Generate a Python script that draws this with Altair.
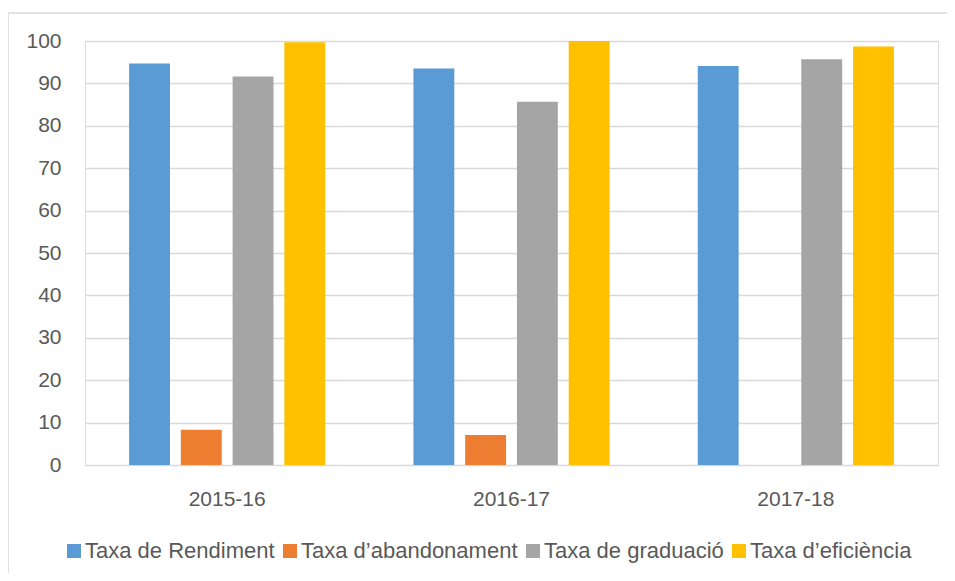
import altair as alt
import pandas as pd

years = ["2015-16", "2016-17", "2017-18"]
series = ["Taxa de Rendiment", "Taxa d’abandonament", "Taxa de graduació", "Taxa d’eficiència"]
colors = ["#5B9BD5", "#ED7D31", "#A5A5A5", "#FFC000"]
rendiment = [94.7, 93.5, 94.1]
abandonament = [8.3, 7.1, None]
graduacio = [91.6, 85.7, 95.7]
eficiencia = [99.7, 100.0, 98.7]

rows = []
for vals, s in zip([rendiment, abandonament, graduacio, eficiencia], series):
    for y, v in zip(years, vals):
        if v is not None:
            rows.append({"curs": y, "serie": s, "valor": v})
df = pd.DataFrame(rows)

FONT = "Liberation Sans"
TXT = "#595959"

bars = alt.Chart(df).mark_bar().encode(
    x=alt.X("curs:N", sort=years, title=None,
            scale=alt.Scale(paddingInner=0.31, paddingOuter=0.155),
            axis=alt.Axis(labelAngle=0, labelFont=FONT, labelFontSize=21, labelColor=TXT,
                          ticks=False, domain=False, labelPadding=23, grid=False)),
    xOffset=alt.XOffset("serie:N", sort=series,
                        scale=alt.Scale(paddingInner=0.21, paddingOuter=0)),
    y=alt.Y("valor:Q", title=None,
            scale=alt.Scale(domain=[0, 100], nice=False),
            axis=alt.Axis(values=list(range(0, 101, 10)), labelFont=FONT, labelFontSize=21,
                          labelColor=TXT, ticks=False, domain=False, labelPadding=24,
                          grid=True, gridColor="#d9d9d9", gridWidth=1.3)),
    color=alt.Color("serie:N", sort=series,
                    scale=alt.Scale(domain=series, range=colors),
                    legend=alt.Legend(title=None, orient="none", direction="horizontal",
                                      legendX=-22, legendY=499, columns=4,
                                      symbolType="square", symbolSize=196,
                                      symbolStrokeWidth=0, labelFont=FONT,
                                      labelFontSize=22, labelColor=TXT,
                                      labelOffset=0, columnPadding=4, padding=0,
                                      labelLimit=400)),
)

border = alt.Chart(pd.DataFrame({"a": [0]})).mark_rect(
    fill=None, stroke="#d9d9d9", strokeWidth=1.5
).encode(
    x=alt.value(-77), x2=alt.value(900), y=alt.value(-28), y2=alt.value(600)
)

chart = alt.layer(border, bars).properties(
    width=853, height=424,
    autosize=alt.AutoSizeParams(type="none"),
    padding={"left": 77, "top": 33, "right": 9, "bottom": 108},
).configure_view(stroke=None).configure(background="white")

chart.save("out.html", embed_options={"renderer": "svg", "actions": False})
